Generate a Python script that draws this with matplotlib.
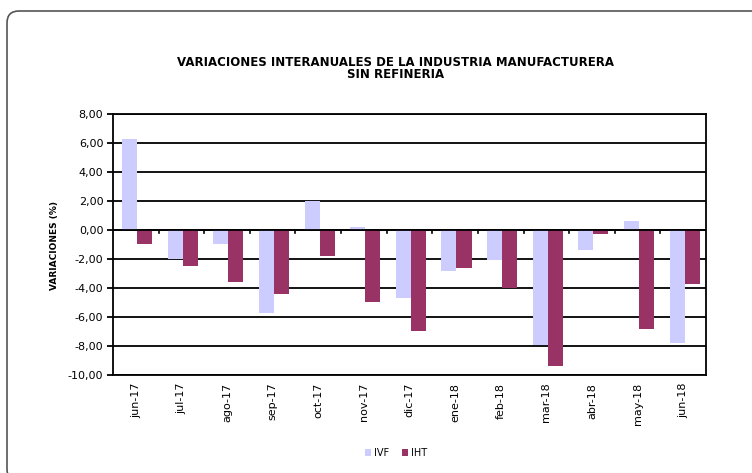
import matplotlib
matplotlib.use("Agg")
import matplotlib.pyplot as plt
import numpy as np
from matplotlib.patches import FancyBboxPatch
from matplotlib.ticker import FuncFormatter

categories = ["jun-17", "jul-17", "ago-17", "sep-17", "oct-17", "nov-17", "dic-17",
              "ene-18", "feb-18", "mar-18", "abr-18", "may-18", "jun-18"]
ivf = [6.3, -2.0, -1.0, -5.7, 2.0, 0.2, -4.7, -2.8, -2.1, -7.9, -1.4, 0.6, -7.8]
iht = [-1.0, -2.5, -3.6, -4.4, -1.8, -5.0, -7.0, -2.6, -4.0, -9.4, -0.3, -6.8, -3.7]
yticks = [8, 6, 4, 2, 0, -2, -4, -6, -8, -10]

plt.rcParams['font.family'] = ['DejaVu Sans']

W, H = 752, 473
fig = plt.figure(figsize=(W / 100, H / 100), dpi=100)

# rounded outer border in pixel coordinates (right and bottom edges fall outside)
border = FancyBboxPatch((7, -8), W + 20, H - 11 + 8,
                        boxstyle="round,pad=0,rounding_size=12",
                        transform=None, fill=False,
                        edgecolor="#555555", linewidth=1.2)
fig.patches.append(border)

ax = fig.add_axes([113 / W, 1 - 375 / H, (706 - 113) / W, (375 - 114) / H])

x = np.arange(len(categories))
bw = 0.33
ax.bar(x - bw / 2 + 0.03, ivf, width=bw, color="#ccccff", label="IVF", zorder=3)
ax.bar(x + bw / 2 + 0.03, iht, width=bw, color="#993366", label="IHT", zorder=3)

ax.set_xlim(-0.5, len(categories) - 0.5)
ax.set_ylim(-10, 8)
ax.set_yticks(yticks)
ax.yaxis.set_major_formatter(FuncFormatter(lambda v, p: f"{v:.2f}".replace(".", ",")))
ax.grid(axis="y", color="black", linewidth=1.3, zorder=1)
ax.set_axisbelow(True)
for s in ax.spines.values():
    s.set_linewidth(1.3)
    s.set_color("black")
ax.tick_params(axis="y", direction="out", length=4, width=1.3, labelsize=8, pad=3)

# category labels at bottom, tick marks at category boundaries on zero line
ax.set_xticks(x)
ax.set_xticklabels(categories, rotation=90, fontsize=8)
ax.tick_params(axis="x", length=0, pad=5.5)
ax.axhline(0, color="black", linewidth=1.3, zorder=4)
for b in np.arange(0.5, len(categories) - 0.5, 1.0):
    ax.plot([b, b], [0, -0.22], color="black", linewidth=1.2, zorder=4, clip_on=False)

fig.text(55 / W, 1 - 246 / H, "VARIACIONES (%)", rotation=90, ha="center", va="center",
         fontsize=6.5, fontweight="bold")

fig.text(396 / W, 1 - 62 / H, "VARIACIONES INTERANUALES DE LA INDUSTRIA MANUFACTURERA",
         ha="center", va="center", fontsize=8.5, fontweight="bold")
fig.text(396 / W, 1 - 75 / H, "SIN REFINERIA",
         ha="center", va="center", fontsize=8.5, fontweight="bold")

leg = fig.legend(loc="center", bbox_to_anchor=(396 / W, 1 - 453 / H), ncol=2,
                 frameon=False, fontsize=7, handlelength=0.6, handleheight=0.6,
                 handletextpad=0.3, columnspacing=1.4)

fig.savefig("out.png", dpi=100)
